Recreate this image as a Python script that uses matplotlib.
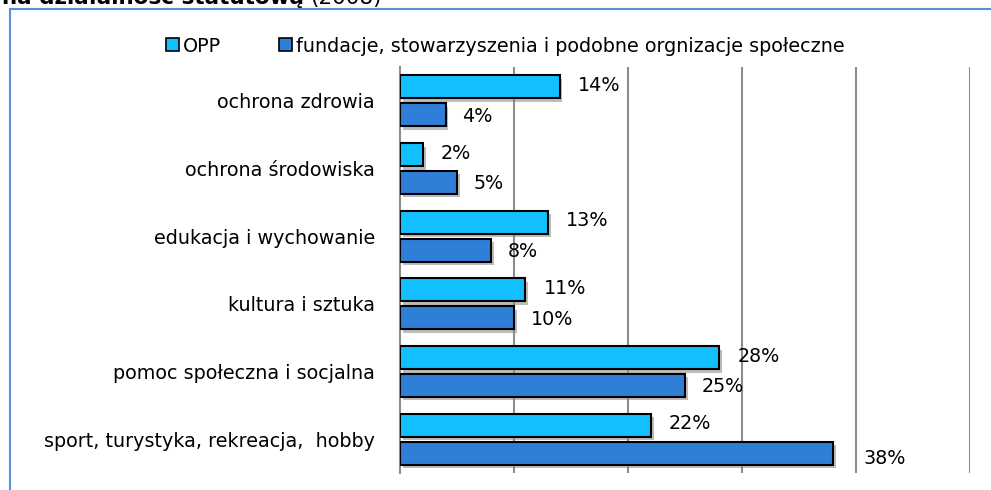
import matplotlib.pyplot as plt
import matplotlib.patheffects as pe
from matplotlib.patches import Rectangle
import numpy as np

# dziedziny działalności (od góry)
kategorie = ["ochrona zdrowia", "ochrona środowiska", "edukacja i wychowanie",
             "kultura i sztuka", "pomoc społeczna i socjalna",
             "sport, turystyka, rekreacja,  hobby"]
opp = [14, 2, 13, 11, 28, 22]
fundacje = [4, 5, 8, 10, 25, 38]
nazwy_serii = ["OPP", "fundacje, stowarzyszenia i podobne orgnizacje społeczne"]

kolor_opp = "#12C0FF"
kolor_fund = "#2F7FD8"
fs = 13.8

W, H = 991, 490
fig = plt.figure(figsize=(W / 100, H / 100), dpi=100)

# ramka wykresu
fig.patches.append(Rectangle((10 / W, -0.1), 1.2, 1 - 9 / H + 0.1, transform=fig.transFigure,
                             fill=False, edgecolor="#5B8FD6", linewidth=1.5))

# tytuł (ucięty u góry)
t = fig.text(2 / W, 1 - 4 / H, "na działalność statutową", fontsize=15.5, fontweight="bold",
             ha="left", va="baseline")
fig.canvas.draw()
bb = t.get_window_extent()
fig.text(bb.x1 / W + 6 / W, 1 - 4 / H, "(2008)", fontsize=15.5, ha="left", va="baseline")

ax = fig.add_axes([400 / W, 1 - 473 / H, 570 / W, 406 / H])
n = len(kategorie)
y = np.arange(n)
h = 0.34
gap = 0.035
cien = [pe.SimplePatchShadow(offset=(2, -2.5), shadow_rgbFace="#888888", alpha=0.55), pe.Normal()]

b1 = ax.barh(y - h / 2 - gap, opp, height=h, color=kolor_opp, edgecolor="black",
             linewidth=1.5, label=nazwy_serii[0], zorder=3)
b2 = ax.barh(y + h / 2 + gap, fundacje, height=h, color=kolor_fund, edgecolor="black",
             linewidth=1.5, label=nazwy_serii[1], zorder=3)
for bar in list(b1) + list(b2):
    bar.set_path_effects(cien)

for yy, v in zip(y - h / 2 - gap, opp):
    ax.annotate(f"{v}%", (v, yy), xytext=(13, 1), textcoords="offset points",
                va="center", ha="left", fontsize=fs)
for yy, v in zip(y + h / 2 + gap, fundacje):
    dx, dy = (22, -4) if v > 30 else (12, -1)
    ax.annotate(f"{v}%", (v, yy), xytext=(dx, dy), textcoords="offset points",
                va="center", ha="left", fontsize=fs)

ax.set_xlim(0, 50)
ax.set_ylim(n - 0.5, -0.5)
ax.set_xticks([10, 20, 30, 40, 50])
ax.set_xticklabels([])
ax.tick_params(axis="x", length=0)
ax.xaxis.grid(True, color="#8C8C8C", linewidth=1.5, zorder=0)
ax.set_axisbelow(True)
ax.set_yticks(y)
ax.set_yticklabels(kategorie, fontsize=fs)
ax.tick_params(axis="y", length=0, pad=18)
for s in ["top", "right", "bottom"]:
    ax.spines[s].set_visible(False)
ax.spines["left"].set_color("#8C8C8C")
ax.spines["left"].set_linewidth(1.5)

leg = fig.legend(handles=[b1, b2], loc="center", bbox_to_anchor=(505 / W, 1 - 46 / H),
                 ncol=2, frameon=False, fontsize=fs, handlelength=0.7, handleheight=0.7,
                 handletextpad=0.2, columnspacing=3.0)
for hnd in leg.legend_handles:
    hnd.set_path_effects([])
    hnd.set_linewidth(1.2)

fig.savefig("out.png", dpi=100)
